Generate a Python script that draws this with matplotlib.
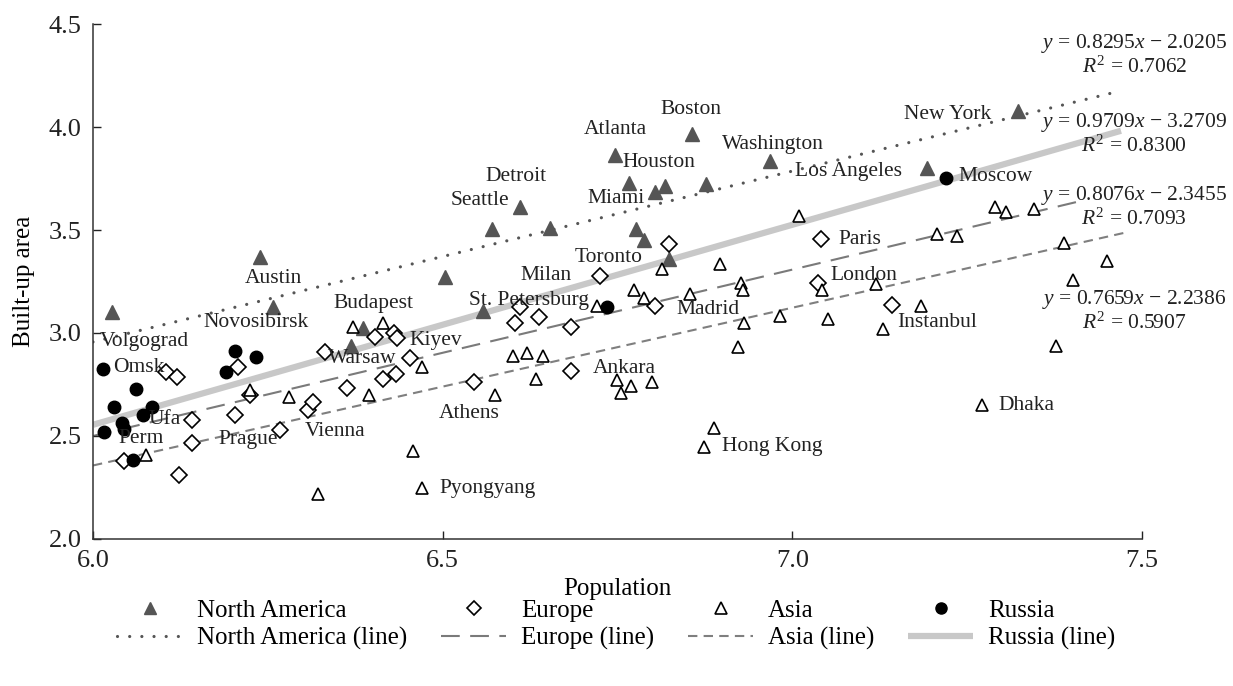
import matplotlib
matplotlib.use("Agg")
import matplotlib.pyplot as plt
from matplotlib.lines import Line2D

plt.rcParams["font.family"] = ["Liberation Serif", "DejaVu Serif"]
plt.rcParams["mathtext.fontset"] = "custom"
plt.rcParams["mathtext.rm"] = "Liberation Serif"
plt.rcParams["mathtext.it"] = "Liberation Serif:italic"

# log10 population vs log10 built-up area, by region
na_x = [6.027, 6.239, 6.258, 6.386, 6.369, 6.503, 6.557, 6.570, 6.610, 6.654, 6.746,
        6.766, 6.804, 6.818, 6.877, 6.856, 6.968, 6.776, 6.788, 6.824, 7.192, 7.322]
na_y = [3.100, 3.369, 3.125, 3.023, 2.937, 3.273, 3.107, 3.503, 3.613, 3.508, 3.862,
        3.727, 3.683, 3.715, 3.723, 3.965, 3.836, 3.506, 3.450, 3.358, 3.800, 4.078]

eu_x = [6.105, 6.120, 6.208, 6.225, 6.142, 6.203, 6.267, 6.141, 6.044, 6.123, 6.308,
        6.315, 6.332, 6.403, 6.431, 6.435, 6.453, 6.434, 6.414, 6.363, 6.545, 6.603,
        6.611, 6.638, 6.684, 6.683, 6.725, 6.804, 6.824, 7.041, 7.036, 7.143]
eu_y = [2.812, 2.785, 2.834, 2.699, 2.577, 2.601, 2.529, 2.468, 2.379, 2.310, 2.626,
        2.667, 2.909, 2.982, 2.999, 2.974, 2.877, 2.801, 2.775, 2.731, 2.764, 3.050,
        3.125, 3.079, 3.028, 2.817, 3.277, 3.131, 3.432, 3.456, 3.244, 3.134]

as_x = [6.076, 6.225, 6.281, 6.322, 6.372, 6.415, 6.471, 6.395, 6.457, 6.470, 6.575,
        6.601, 6.621, 6.643, 6.634, 6.721, 6.749, 6.769, 6.755, 6.799, 6.888, 6.874,
        6.813, 6.773, 6.788, 6.853, 6.897, 6.926, 6.930, 6.923, 6.931, 6.982, 7.010,
        7.043, 7.051, 7.120, 7.129, 7.184, 7.207, 7.236, 7.290, 7.305, 7.346, 7.388,
        7.401, 7.450, 7.377, 7.271]
as_y = [2.408, 2.724, 2.689, 2.218, 3.028, 3.047, 2.837, 2.699, 2.427, 2.246, 2.699,
        2.888, 2.905, 2.888, 2.775, 3.132, 2.772, 2.743, 2.707, 2.761, 2.539, 2.447,
        3.309, 3.209, 3.168, 3.190, 3.334, 3.244, 3.209, 2.934, 3.050, 3.084, 3.568,
        3.209, 3.067, 3.237, 3.018, 3.131, 3.479, 3.471, 3.613, 3.586, 3.600, 3.435,
        3.257, 3.350, 2.937, 2.650]

ru_x = [6.015, 6.203, 6.233, 6.190, 6.062, 6.030, 6.084, 6.072, 6.042, 6.044, 6.016,
        6.057, 6.735, 7.220]
ru_y = [2.824, 2.914, 2.882, 2.809, 2.727, 2.642, 2.639, 2.602, 2.565, 2.533, 2.521,
        2.383, 3.127, 3.751]

# linear fits: slope, intercept, R^2, x-extent of the drawn line
fit_names = ["North America", "Europe", "Asia", "Russia"]
fit_slope = [0.8295, 0.8076, 0.7659, 0.9709]
fit_icpt = [-2.0205, -2.3455, -2.2386, -3.2709]
fit_r2 = [0.7062, 0.7093, 0.5907, 0.8300]
fit_x0 = [6.0, 6.0, 6.0, 6.0]
fit_x1 = [7.47, 7.42, 7.48, 7.47]

# city names and where their labels sit (left edge, vertical centre)
city_names = ["Volgograd", "Omsk", "Novosibirsk", "Ufa", "Perm", "Prague", "Austin",
              "Budapest", "Warsaw", "Kiyev", "Vienna", "Athens", "Pyongyang", "Milan",
              "St. Petersburg", "Toronto", "Seattle", "Detroit", "Atlanta", "Houston",
              "Miami", "Boston", "Washington", "Los Angeles", "New York", "Moscow",
              "Paris", "London", "Madrid", "Ankara", "Hong Kong", "Instanbul", "Dhaka"]
city_lx = [6.010, 6.029, 6.158, 6.079, 6.036, 6.179, 6.217, 6.344, 6.336, 6.452, 6.303,
           6.495, 6.495, 6.611, 6.537, 6.689, 6.511, 6.561, 6.702, 6.757, 6.707, 6.812,
           6.899, 7.004, 7.159, 7.237, 7.066, 7.054, 6.835, 6.715, 6.900, 7.150, 7.295]
city_ly = [2.958, 2.833, 3.053, 2.578, 2.486, 2.485, 3.265, 3.143, 2.877, 2.963, 2.521,
           2.607, 2.246, 3.277, 3.160, 3.367, 3.644, 3.759, 3.989, 3.827, 3.654, 4.086,
           3.917, 3.783, 4.063, 3.759, 3.456, 3.277, 3.115, 2.829, 2.447, 3.050, 2.647]

# equation blocks (centre x, centre y) in data units
eq_cx = [7.489, 7.489, 7.489, 7.489]
eq_cy = [4.350, 3.613, 3.108, 3.966]

line_styles = [
    dict(color="#555555", lw=2.3, linestyle=(0, (0.01, 3.8)), dash_capstyle="round"),
    dict(color="#7a7a7a", lw=1.5, linestyle=(0, (9, 5))),
    dict(color="#7f7f7f", lw=1.5, linestyle=(0, (4.5, 3))),
    dict(color="#c8c8c8", lw=4.5, linestyle="-", solid_capstyle="butt"),
]

fig = plt.figure(figsize=(12.33, 6.86), dpi=100)
ax = fig.add_axes([0.0754, 0.2143, 0.8508, 0.7507])

for i in range(4):
    xs = [fit_x0[i], fit_x1[i]]
    ys = [fit_slope[i] * v + fit_icpt[i] for v in xs]
    ax.plot(xs, ys, zorder=1, **line_styles[i])

ax.plot(na_x, na_y, "^", color="#555555", ms=9.5, ls="none", zorder=3)
ax.plot(eu_x, eu_y, "D", mfc="white", mec="black", mew=1.2, ms=8, ls="none", zorder=3)
ax.plot(as_x, as_y, "^", mfc="white", mec="black", mew=1.2, ms=9, ls="none", zorder=3)
ax.plot(ru_x, ru_y, "o", color="black", ms=9, ls="none", zorder=4)

for name, lx, ly in zip(city_names, city_lx, city_ly):
    ax.text(lx, ly, name, fontsize=15.5, ha="left", va="center", color="#222222", zorder=5)

for i in range(4):
    eq = (f"$y$ = {fit_slope[i]:.4f}$x$ \u2212 {abs(fit_icpt[i]):.4f}\n"
          f"$R^2$ = {fit_r2[i]:.4f}")
    ax.text(eq_cx[i], eq_cy[i], eq, fontsize=15.5, ha="center", va="center",
            multialignment="center", linespacing=1.1, color="#222222", zorder=5,
            clip_on=False)

ax.set_xlim(6.0, 7.5)
ax.set_ylim(2.0, 4.5)
ax.set_xticks([6.0, 6.5, 7.0, 7.5])
ax.set_yticks([2.0, 2.5, 3.0, 3.5, 4.0, 4.5])
ax.xaxis.set_major_formatter(plt.FormatStrFormatter("%.1f"))
ax.yaxis.set_major_formatter(plt.FormatStrFormatter("%.1f"))
ax.tick_params(direction="in", length=6, width=1, labelsize=19, pad=8, colors="#222222")
for side in ["top", "right"]:
    ax.spines[side].set_visible(False)
for side in ["left", "bottom"]:
    ax.spines[side].set_linewidth(1.1)
    ax.spines[side].set_color("#333333")
ax.set_xlabel("Population", fontsize=18, labelpad=4)
ax.set_ylabel("Built-up area", fontsize=18, labelpad=10)

handles = [
    Line2D([], [], marker="^", color="#555555", ls="none", ms=8),
    Line2D([], [], **line_styles[0]),
    Line2D([], [], marker="D", mfc="white", mec="black", mew=1.2, ls="none", ms=7),
    Line2D([], [], **line_styles[1]),
    Line2D([], [], marker="^", mfc="white", mec="black", mew=1.2, ls="none", ms=8),
    Line2D([], [], **line_styles[2]),
    Line2D([], [], marker="o", color="black", ls="none", ms=8),
    Line2D([], [], **line_styles[3]),
]
labels = []
for n in fit_names:
    labels += [n, f"{n} (line)"]
fig.legend(handles, labels, ncol=4, loc="center", bbox_to_anchor=(0.5, 0.089),
           frameon=False, fontsize=18, handlelength=2.6, handletextpad=0.6,
           columnspacing=1.35, labelspacing=0.22)

fig.savefig("out.png", dpi=100)
